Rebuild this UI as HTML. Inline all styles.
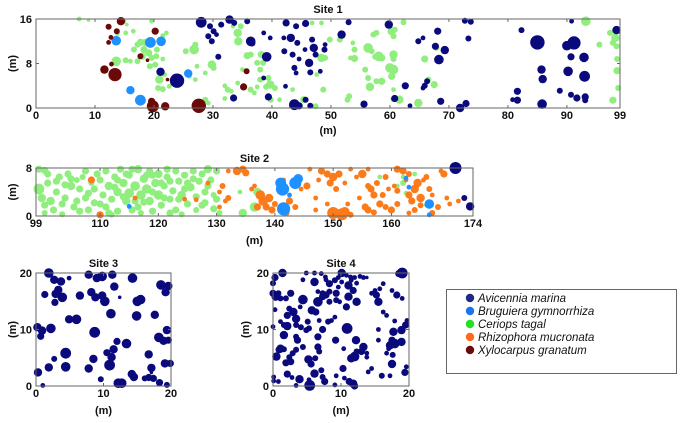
<!DOCTYPE html>
<html><head><meta charset="utf-8"><style>
body{margin:0;background:#fff;}
svg{display:block;font-family:"Liberation Sans",Arial,sans-serif;}
.t{font-size:11px;font-weight:bold;fill:#111;}
.lg{font-size:11.5px;font-style:italic;fill:#111;}
</style></head><body>
<svg id="chart" width="680" height="423"></svg>
<script>
// Site 1 data [x(m), y(m), size]
const site1Avicennia=[[28,15.4,4.5],[23.9,4.9,6],[21.1,6.5,3.5],[29.5,14.7,2.5],[30.1,13.8,2.5],[29.2,12.9,2.5],[29.8,12,2.5],[30.6,13.2,2],[31.4,15,2.5],[32.8,15.9,3.5],[33.6,15.3,2.5],[35.8,15.6,2.5],[36.4,12,4],[36.6,11.7,3],[39.1,9.2,4],[42.4,15.3,3],[44.1,14.7,2.5],[45.7,15.2,3],[38.6,13.5,2],[39.7,12.6,2],[42,12.6,2],[42.1,10.2,2.5],[43.2,12.6,3.5],[44.3,11.7,2.5],[43.5,9.6,2.5],[44.6,8.8,2],[46.3,8.1,3.5],[43.8,7.2,2.5],[44.1,6.3,2],[46.5,6.4,2.5],[48.2,6.6,2],[47.1,10.8,3.5],[47.4,9.6,2.5],[48.9,10.5,2.5],[49,11.4,2],[45.6,10.5,2],[46.8,12.3,2.5],[33.5,1.8,3],[39.4,2,3],[43.8,0.6,4.5],[44.6,0.4,3],[45.7,1.5,2.5],[46.5,0.4,2.5],[38.6,5.4,2],[42.3,3.9,2],[30.9,9.2,2.5],[51.8,13.2,3.5],[53,15.4,2.5],[59.8,15,3.5],[68.1,13.8,3],[64.8,12,2.5],[65.6,12.6,2],[67.7,11.1,3],[69.3,10.4,3.5],[68.3,8.7,4],[73.3,12.5,2.5],[72.7,15.7,2.5],[73.7,15.5,2.5],[82.3,14,2.5],[85,11.8,6],[90,11.2,4],[91.2,11.7,5.5],[90.7,9.2,3],[92.9,9.1,4],[90.8,15.6,2],[98.4,14,3.5],[85.7,6.9,3.5],[85.9,5.2,3.5],[90.2,6.6,4],[93,5.7,4.5],[62.6,4,3],[65.9,4,2.5],[66.3,4.8,2.5],[65.6,3.6,2],[60.8,1.7,3],[68.6,1.2,3],[63.4,0.4,2],[55.6,0.7,3],[71.9,0,3.5],[72.9,0.8,3],[81.6,3,3],[81.6,1.4,3],[80.8,1.5,2],[85.8,0.7,4],[88.8,3.1,2.5],[90.7,2.4,2.5],[91.7,1.8,3],[93.1,2,3],[93.1,1.4,2.5]];
const site1Bruguiera=[[13.6,12.1,4],[19.4,11.8,4.5],[21.2,12,4],[16,3.2,3.5],[17.7,1.4,4.5],[25.8,6.2,3.5]];
const site1Ceriops=[[7.3,16,2],[8.9,15.8,1.5],[14.9,15.6,2],[13.8,13.4,2],[15.2,13.5,2],[16.5,13.8,2],[15.4,15,1.5],[19.6,15.6,2],[17.7,11.8,3],[17.2,11.4,2.5],[18.5,11.8,3],[18.3,10.5,3],[16.6,10.5,2.5],[19.1,9.9,3],[19.6,9,2.5],[18,9.3,3],[20.5,10.5,2.5],[21.5,13,2],[22.1,13.5,2],[20.4,9.3,2.5],[20.2,7.8,2.5],[19.3,7.5,2.5],[13.6,8.4,4],[15.2,8.6,2.5],[16,8.4,2],[17.2,8.4,2.5],[21.5,8.8,2],[20.9,5.1,3.5],[20.7,3.6,2.5],[21.5,3.4,2.5],[22.6,3.9,2],[21.8,6,2],[25.4,10.2,2.5],[26.8,10.5,4],[27,11.4,2.5],[27.3,7.5,2],[26,5.7,2],[27,5.1,2],[28.7,6.3,2],[29.8,7.8,3.5],[30.1,7.2,2.5],[32,4,2],[32.5,3.3,2.5],[33.1,3,2],[32,1.7,2],[34.2,4.5,2],[35,6.9,2],[35.8,9.4,3],[36.4,9.6,2.5],[34.3,12,3.5],[34.2,13.5,3.5],[34.7,14.7,2.5],[33.4,14.7,2],[38.2,9.6,3],[37.5,8.1,2.5],[38.5,8.1,2.5],[38,6.9,2.5],[39.4,5.4,2.5],[39.7,4.2,3.5],[40.5,3.6,2.5],[39,3.8,2.5],[37.5,3.8,2],[38,5.1,2.5],[39.8,1.5,2.5],[41.3,1.5,2],[43.5,3.3,2],[48.7,3.3,2.5],[47.6,6,2],[48.4,9,3.5],[49,9,2.5],[46.8,15.3,2],[48.4,15.3,2],[49.8,12.3,2.5],[45.4,1.5,3],[47.4,0.3,2.5],[28.7,1.5,2.5],[29.2,0.9,2],[36.4,3.3,2.5],[37,2.7,2],[51.5,12.3,2.5],[53.7,11.7,2],[54,10.5,2.5],[53.3,9,2],[54,8.9,3],[57.7,13.5,2.5],[57.2,13.2,2.5],[60.3,13.8,3.5],[60.6,12.9,2.5],[60.8,14.1,2.5],[62.3,15.4,2.5],[56.3,10.8,4],[56.9,10.2,2.5],[58.1,9.3,4],[58.6,9,3],[57.5,9.2,2.5],[60.6,9.6,3.5],[60.6,8.8,2.5],[60,7.2,4],[60.6,6.9,4],[60.3,5.7,3],[55.8,6.9,2.5],[56.3,5.4,2.5],[57.7,4.8,2.5],[58.6,4.8,3],[56.6,3.8,3.5],[53.1,2.1,2.5],[52.8,1.5,2.5],[55.5,0.3,2],[60.6,3.3,2],[61.6,1.5,3.5],[60.6,1.6,2.5],[64.8,0.9,3.5],[65.9,8.8,3],[66.5,5.1,2.5],[67.5,4.2,3],[67.9,10.8,2.5],[93.2,15.6,4],[95.5,11.4,2.5],[97.3,13.5,2.5],[97.8,11.7,2.5],[98.2,12.6,3.5],[98.4,11.1,2.5],[98.5,8.8,2.5],[98.5,6.7,3],[98.7,3.6,2.5],[97.8,1.4,3]];
const site1Xylocarpus=[[12.3,14.6,2.5],[14.4,15.6,3.5],[13.7,13.8,2.5],[12.3,11.8,2],[12.7,12.7,2],[20.2,13.8,3],[11.6,6.9,3.5],[12.8,7.9,2],[13.4,6,5.5],[17.7,9.3,2.5],[18.9,8.6,1.5],[19.6,1.2,3],[19.8,0.3,5],[21.9,0.3,3.5],[27.6,0.4,6],[35.2,3.8,3],[35.7,6.6,2.5],[22.3,5.1,1.5]];
// Site 2 data
const site2Ceriops=[[99.5,7.8,3],[100.5,7.6,3],[99.5,4.5,4.5],[100,3,3.5],[101,5.5,3],[101.5,2.5,3.5],[102,1,3],[102.5,4,3],[103,6.5,3],[104,3,3],[104.5,7,3],[105,5,3.5],[105.5,1.5,3],[106,2.5,3],[106.5,4.5,3],[107,6.5,2.5],[107.5,7.5,3],[107.5,3,3],[108,1,3],[109,2.2,3],[109,4.5,3],[110,6,3],[110.5,3.5,3],[111,7.5,3],[111,1.5,3],[111.5,5,3.5],[112,2.8,3],[112.5,6.5,3],[113,4,3.5],[113,0.8,3],[113.5,7.8,3],[114,5.5,3.5],[114.5,2.5,3.5],[115,3.8,4],[115,6.8,3],[116,5,4],[116.5,7.8,3.5],[116.5,1.5,3],[117,3.5,4],[117.5,6.2,3.5],[118,4.5,4],[118.5,2.5,3.5],[118.5,7.5,3],[119,0.8,3],[119.5,5.5,3.5],[120,3.5,4],[120,7,3.5],[120.5,1.8,3],[121,5,3],[121.5,6.5,3],[122,2.8,3],[122.5,4.2,3],[123,7.5,3],[123,1,3],[123.5,5.8,3],[124,3.5,3.5],[124.5,6.8,3],[125,2,3],[125.5,4.8,3.5],[126,7.5,3],[126.5,3.2,3],[126.5,1,2.5],[127,5.8,3],[127.5,7,3],[128,4,3],[128,2.2,3],[128.5,7.8,3.5],[129,6,3],[129.5,1.2,3],[129.5,3.5,2.5],[130,7.5,3],[130.5,0.5,2.5],[100.5,0.5,2.5],[103.5,0.3,2.5],[112,0.2,2.5],[106,6,2.5],[108.5,5.5,2.5],[114,3.2,3],[116,2.5,3],[119,4,3],[121,3,3],[122,5.8,3],[125,5.5,3],[110,2,3],[102.5,5.8,3],[124,0.3,2.5],[117,0.5,2.5],[113,6,3],[115.5,7.8,3],[119,6.8,3],[121.5,7.8,3],[101,7,3],[103.5,2,3],[105,6.2,3],[106.5,0.8,3],[108,3.8,3],[109.5,7,3],[111.5,0.5,3],[112.5,4.8,3],[114.5,7,3],[115.5,1,3],[117.5,2.3,3],[118,6.8,3],[120.5,5.5,3],[122,0.5,3],[123.5,2.8,3],[124.5,4.5,3],[126,6.2,3],[127.5,1.8,3],[128.5,5,3],[130,2.8,3],[104,5.2,3],[100.5,1.8,3],[158,6.5,2],[161,5,2],[162,5.5,2.5],[162.5,3.8,2],[162,6.5,2],[166,1.8,2],[164,7,2],[136.5,1.5,4],[137,4,3.5],[134,4,2],[134.5,0.5,3.5]];
const site2Rhizophora=[[133.5,7.5,3.5],[134.5,7.8,3],[135,7.2,3],[131,5,2.5],[130.5,4,2],[132,3,2.5],[131.5,2.5,2],[130.5,1.5,2],[136,4.5,2],[137.5,3.5,4],[138,2.5,4],[139,3,3.5],[138.5,1.5,3],[140,2,2.5],[137,1.5,3],[139.5,1,3],[136.5,5,2],[141.5,6,2],[142.5,2.5,3],[143.5,1.5,2.5],[142,0.5,2.5],[144.5,4.5,2],[145.5,5,3],[146,7.8,2],[147,3,2],[147.5,6,2],[148,7.5,3],[149,7,3],[149.5,5.5,3],[150,6.5,3.5],[150.5,4.5,2.5],[151,7,3],[150,0.5,5],[151.5,0.3,5],[152,0.7,4],[149,2,2],[147,1,2],[153,0.2,2.5],[154,6.5,2],[155,7,3.5],[156,7.8,2],[156,5,2.5],[156.5,4.5,3],[157,3.5,3],[157.5,5.5,2.5],[155.5,1.5,3],[156,1,3],[157,0.6,2.5],[158,2,3],[158.5,3.5,2.5],[159,1.5,2.5],[159.5,4.5,2],[160,1,3],[161,2,2.5],[161,7.8,3],[162,7.5,3],[163,7,2.5],[162.5,6,2],[160.5,5,2],[161,4.2,2.5],[163,3.5,3],[163.5,2.5,3],[164,4.5,3.5],[164.5,5.5,3.5],[165,3,3.5],[165,1.8,2.5],[164,1,2.5],[163,0.5,2],[166,6.5,2.5],[166.5,4.5,2.5],[167,3.5,2],[167,0.5,2.5],[168,1.5,2.5],[168.5,7.5,2],[169,7,3],[169.5,3,2],[170,2,2],[171.5,2.5,2],[165.5,6,2],[159,6.5,2.5],[153,7.8,2],[152,5.5,2],[154.5,3,2],[152.5,2,2],[108.5,6,3],[110,0.2,3],[116,3,2],[124.5,2.8,2],[126.5,2.7,2],[128.5,5.5,2],[132,7.5,2]];
const site2Bruguiera=[[141.3,4.5,5.5],[141,5.5,4.5],[143.5,5.5,5],[144,6.2,4],[141.5,1.2,5.5],[142.5,3.5,2],[115,1.6,2],[162.5,6.3,2],[163,4.8,2],[166.5,2,4],[166.5,0.2,2]];
const site2Avicennia=[[171,8,5],[172.5,3,2.5],[173.5,1.6,3.5]];
// Site 3 data
const site3Avicennia=[[1.9,20,4],[2.7,18.8,3.5],[3.7,18.5,3.5],[4.9,19.1,2],[7.8,19.7,3.5],[9,19.1,3.5],[9.8,19.4,4],[11.3,19.7,3.5],[14.3,19.1,4],[18.5,17.9,4],[19.6,17.7,3.5],[19.2,16.6,3.5],[1.3,16.2,3],[3.3,17,3.5],[2.9,16.3,3.5],[3.9,15.7,4],[2.8,14.8,3],[6.5,16,3.5],[8.2,16.6,3.5],[8.8,15.7,3.5],[9.8,16,3.5],[10.2,15,4],[11.6,17.6,3.5],[12.4,15.7,1.5],[15,15,4],[15.5,15.3,4],[11.1,12.8,4],[14.9,12.4,4],[17.6,12.6,3.5],[4.9,11.8,3.5],[6,11.8,4],[0.2,10.4,3.5],[0.9,9.8,3.5],[0.7,8.8,3],[2.2,10.2,4],[8.7,9.5,4.5],[19.4,9.9,3.5],[18.2,8.6,4],[18.9,8,3.5],[19.6,8.1,3],[12,7.9,3],[13.4,7.5,4],[11.5,6.5,3.5],[10.5,5.9,3],[11.2,5.1,3.5],[4.4,5.8,4.5],[8.5,4.8,3.5],[16.7,5.6,3.5],[2.7,4.8,2.5],[0.3,2.4,3.5],[1.9,3.3,3.5],[4.4,3.4,4],[7.8,3.1,3.5],[10.9,3.7,4.5],[17.1,3.2,3.5],[19.1,4,3.5],[19.9,4,3],[9.6,1.2,2.5],[14.2,2.1,3.5],[14.5,1.6,3.5],[16.1,1.35,2.5],[16.7,1.5,3],[17.4,1.35,3],[18.3,0.6,3],[19.4,0.2,2.5],[12.2,0.5,4],[12.7,0.5,4],[1,0.1,2],[17.1,2.4,1.5]];
// Site 4 data
const site4Avicennia=[[1.4,20,3.5],[0,18.2,2.5],[0,16.4,3],[0.4,15.8,3.5],[0.8,16.4,2.5],[1.1,15.5,2.5],[1.9,15.5,2.5],[2.6,16.4,3],[4.4,15.3,4],[4.9,20,2],[4.4,18.8,2],[6.1,18.4,3.5],[6.1,20,2],[7.1,19.9,2],[7.7,19.3,2],[7.8,18.8,2],[8.3,18.1,3],[9.1,18.7,2.5],[10.1,20,3.5],[9.6,19.2,2],[10.1,18.4,2],[10.8,19.6,2],[11.4,19.3,2],[11.5,18.7,2],[12,19.2,2],[12.8,19.4,2],[13.3,19.2,2],[13.8,19.2,1.5],[12.3,18.2,2],[11.1,17.8,3.5],[11.8,16.9,3],[9.6,17.5,2],[9.3,16.4,3],[8.3,16.7,2.5],[7.8,16.1,3],[7.3,16.4,2.5],[7.3,15.8,3],[6.6,16.7,2],[6.6,14.9,4],[8.3,14.9,2.5],[9.3,15.2,2.5],[9.8,14.9,2],[11.1,15.8,3.5],[10.8,14,3],[12.3,14.9,3.5],[14.5,16.4,2],[15,16.9,2],[15.7,17.2,2],[16.2,18.1,2],[15.5,14.9,3.5],[15.2,16.1,3],[17.5,16.9,2],[18.2,16.1,3],[19,20,4.5],[18.5,19.9,3],[19,15.5,2],[16.2,13.1,2],[16.7,12.5,2],[17.9,11.5,2],[19.5,10.8,3],[18.9,9.9,3.5],[19.7,11.6,2],[17.7,9.6,3.5],[17.5,8.1,3],[17.2,7.2,3.5],[17.9,7.5,4],[18.9,7.8,3.5],[17,6.6,2],[16.7,5.8,2],[17.6,5.5,2.5],[17.5,3.9,3.5],[19.6,3.4,2],[19.4,2.4,3],[16,1.8,2.5],[17.2,1.8,2],[14,2.5,2],[14.5,3.1,2],[15.5,8.1,2],[15.5,10,2],[13.3,6.9,3.5],[13.8,5.8,2],[13,6.1,3],[12,5.2,4],[11.5,4.9,3.5],[12.3,6.1,2.5],[13.8,5.1,2],[12.2,8.1,3.5],[10.9,10.2,4.5],[9.2,8.1,3],[10.4,6.6,2],[10.3,3.1,3],[9.3,1.8,2],[10.5,1.4,2],[11.2,0.8,3],[11.8,0.4,3.5],[12,0,3],[5.4,0.1,4.5],[6.1,2.2,3.5],[7.3,1.6,2.5],[7.6,0.8,3],[7.1,2.8,2.5],[5.6,3.9,3],[5.2,4.7,3.5],[6.2,4.9,2.5],[6.8,6.1,2.5],[6.6,6.9,3],[6.6,8.7,3],[7.3,10,3],[8.6,11.6,2],[9.1,12.2,2],[8.1,11.4,2.5],[6.8,11.6,2],[6.3,13.1,3],[5.7,13.4,3.5],[5.1,11.4,2.5],[4.9,9.9,2.5],[5.3,10.2,2.5],[4.1,10.4,2.5],[3.4,10.8,2.5],[3.4,11.9,3.5],[3,13.1,3.5],[2.4,13.7,2.5],[2.1,12.5,3],[1.6,10.8,2.5],[2.1,10.6,3.5],[1.6,9,3.5],[3.4,8.7,2.5],[3.6,8.1,3],[3.4,6.4,2.5],[4.4,6.9,2.5],[2.9,5.8,2.5],[2.4,5.1,2.5],[2.6,4.3,3],[1.9,4.1,3],[1.1,6.6,3.5],[0.9,6.4,3],[0.5,5.2,3.5],[1.6,6.5,2.5],[0.1,1.6,2],[0.1,0.9,2],[0.8,0.8,2],[2.1,2.1,3],[2.8,1.5,2],[3.9,1.2,3.5],[3.4,0.1,2],[5.3,1.1,2],[9.1,0.2,2],[1.1,11.4,2],[0.3,13.5,2],[4,14,2],[0,10.5,2],[0.3,19.2,3]];
// Axis ticks
const site1XTicks=[0,10,20,30,40,50,60,70,80,90,99];
const site1YTicks=[0,8,16];
const site2XTicks=[99,110,120,130,140,150,160,174];
const site2YTicks=[0,8];
const site34Ticks=[0,10,20];
const legendLabels=["Avicennia marina","Bruguiera gymnorrhiza","Ceriops tagal","Rhizophora mucronata","Xylocarpus granatum"];

const NS="http://www.w3.org/2000/svg";
const svg=document.getElementById('chart');
const C={av:"#0a0a7c",br:"#1e90ff",ce:"#90ee7e",rh:"#fb7a1a",xy:"#6b0808"};
const RSCALE=1.2;
function mk(tag,attrs,parent){const e=document.createElementNS(NS,tag);for(const k in attrs)e.setAttribute(k,attrs[k]);(parent||svg).appendChild(e);return e;}
function txt(x,y,s,cls,anchor,parent){const t=mk('text',{x:x,y:y,class:cls,'text-anchor':anchor||'middle'},parent);t.textContent=s;return t;}

function panel(name,title,x0,x1,y0,y1,xmin,xmax,ymin,ymax,xt,yt,series,xlabY){
  const g=mk('g',{});
  
  
  const sx=v=>x0+(v-xmin)/(xmax-xmin)*(x1-x0);
  const sy=v=>y1-(v-ymin)/(ymax-ymin)*(y1-y0);
  const tt=txt((x0+x1)/2,y0-6,title,'t','middle',g);
  
  
  series.forEach(s=>{
    const sg=mk('g',{fill:s.c},g);
    
    
    s.d.forEach(p=>{
      const c=mk('circle',{cx:sx(p[0]).toFixed(1),cy:sy(p[1]).toFixed(1),r:(p[2]*RSCALE).toFixed(2)},sg);
      
      
    });
  });
  const fr=mk('rect',{x:x0,y:y0,width:x1-x0,height:y1-y0,fill:'none',stroke:'#666','stroke-width':1},g);
  
  
  xt.forEach(v=>{
    const X=sx(v);
    mk('line',{x1:X,x2:X,y1:y1,y2:y1-3,stroke:'#666'},g);
    mk('line',{x1:X,x2:X,y1:y0,y2:y0+3,stroke:'#666'},g);
    const l=txt(X,y1+11,String(v),'t','middle',g);
    
    
  });
  yt.forEach(v=>{
    const Y=sy(v);
    mk('line',{x1:x0,x2:x0+3,y1:Y,y2:Y,stroke:'#666'},g);
    mk('line',{x1:x1,x2:x1-3,y1:Y,y2:Y,stroke:'#666'},g);
    const l=txt(x0-4,Y+4,String(v),'t','end',g);
    
    
  });
  const yl=txt(0,0,'(m)','t','middle',g);
  yl.setAttribute('transform','translate(16,'+((y0+y1)/2)+') rotate(-90)');
  if(x0>200) yl.setAttribute('transform','translate('+(x0-24)+','+((y0+y1)/2)+') rotate(-90)');
  
  
  const xl=txt((x0+x1)/2,xlabY,'(m)','t','middle',g);
  
  
}

panel('site-1-panel','Site 1',36,620,19,108,0,99,0,16,site1XTicks,site1YTicks,[
  {n:'ceriops-series',c:C.ce,d:site1Ceriops},{n:'avicennia-series',c:C.av,d:site1Avicennia},
  {n:'bruguiera-series',c:C.br,d:site1Bruguiera},{n:'xylocarpus-series',c:C.xy,d:site1Xylocarpus}],134);
panel('site-2-panel','Site 2',36,473,168,216,99,174,0,8,site2XTicks,site2YTicks,[
  {n:'ceriops-series',c:C.ce,d:site2Ceriops},{n:'rhizophora-series',c:C.rh,d:site2Rhizophora},
  {n:'bruguiera-series',c:C.br,d:site2Bruguiera},{n:'avicennia-series',c:C.av,d:site2Avicennia}],244);
panel('site-3-panel','Site 3',36,171,273,386,0,20,0,20,site34Ticks,site34Ticks,[
  {n:'avicennia-series',c:C.av,d:site3Avicennia}],414);
panel('site-4-panel','Site 4',273,409,273,386,0,20,0,20,site34Ticks,site34Ticks,[
  {n:'avicennia-series',c:C.av,d:site4Avicennia}],414);

// legend
const lg=mk('g',{});


mk('rect',{x:446.5,y:289.5,width:230,height:84,fill:'#fff',stroke:'#666'},lg);
const lc=["#1f2a86","#1a74f0","#22e022","#ff6a1a","#6b0a0a"];
legendLabels.forEach((s,i)=>{
  const e=mk('g',{},lg);
  
  
  mk('circle',{cx:470,cy:298+i*13,r:4.2,fill:lc[i]},e);
  txt(478,302+i*13,s,'lg','start',e);
});
</script>
</body></html>
